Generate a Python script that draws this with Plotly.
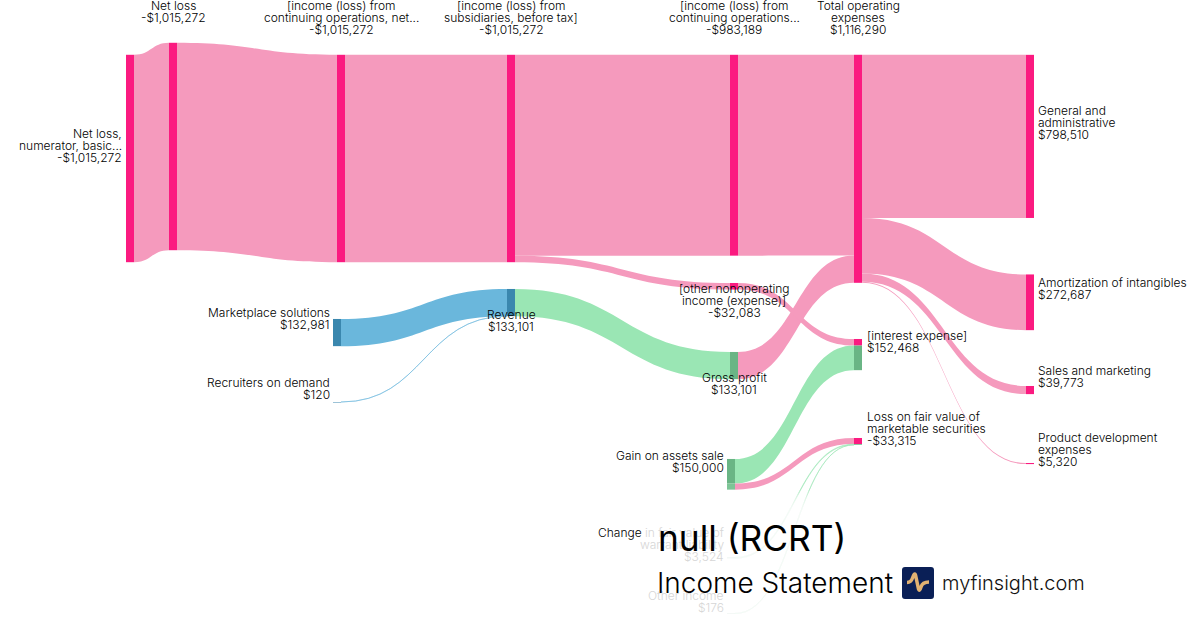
import plotly.graph_objects as go

W, H = 1200, 630
FONT = "Inter"

# ---- data -------------------------------------------------------------
node_names = [
    "Net loss, numerator, basic", "Net loss", "Income from continuing operations, net",
    "Income from subsidiaries, before tax", "Income from continuing operations",
    "Other nonoperating income", "Total operating expenses",
    "General and administrative", "Amortization of intangibles", "Sales and marketing",
    "Product development expenses", "Marketplace solutions", "Recruiters on demand",
    "Revenue", "Gross profit", "Interest expense (nonoperating part)", "Interest expense (gain part)",
    "Gain on assets sale (interest part)", "Gain on assets sale (fair value part)",
    "Loss on fair value (gain part)", "Loss on fair value (other part)",
    "Change in fair value of warrant liability", "Other income",
]
link_source = [0, 1, 2, 3, 3, 4, 14, 6, 6, 6, 6, 11, 12, 13, 5, 17, 18, 21, 22]
link_target = [1, 2, 3, 4, 5, 6, 6, 7, 8, 9, 10, 13, 13, 14, 15, 16, 19, 20, 20]
link_value = [1015272, 1015272, 1015272, 983189, 32083, 983189, 133101,
              798510, 272687, 39773, 5320, 132981, 120, 133101,
              32083, 120385, 29615, 3524, 176]
link_kind = ["p", "p", "p", "p", "p", "p", "p", "p", "p", "p", "p",
             "b", "b_thin", "g", "p", "g", "p", "g_thin", "g_thin"]
node_kind = ["p", "p", "p", "p", "p", "p", "p", "p", "p", "p", "p",
             "b", "b", "b", "g", "p", "g", "g", "g2", "p", "g", "g", "g"]

# node centre column (px) and top edge (px)
node_cx = [130, 173, 341, 511, 734, 734, 858, 1030, 1030, 1030, 1030, 337, 337,
           511, 734, 858, 858, 731, 731, 858, 858, 731, 731]
node_top = [55, 43, 55, 55, 55, 283, 55, 55, 274.5, 386, 463, 319, 402,
            289, 352, 339, 345.6, 459, 483.6, 438, 444.1, 557.5, 613.5]

# (lines, anchor, x, first-line y)
text_labels = [
    (["Net loss,", "numerator, basic...", "-$1,015,272"], "right", 122, 134),
    (["Net loss", "-$1,015,272"], "center", 173, 6),
    (["[income (loss) from", "continuing operations, net...", "-$1,015,272"], "center", 341, 6),
    (["[income (loss) from", "subsidiaries, before tax]", "-$1,015,272"], "center", 511, 6),
    (["[income (loss) from", "continuing operations...", "-$983,189"], "center", 734, 6),
    (["Total operating", "expenses", "$1,116,290"], "center", 858, 6),
    (["General and", "administrative", "$798,510"], "left", 1038, 111),
    (["Amortization of intangibles", "$272,687"], "left", 1038, 283),
    (["Sales and marketing", "$39,773"], "left", 1038, 371),
    (["Product development", "expenses", "$5,320"], "left", 1038, 438),
    (["[interest expense]", "$152,468"], "left", 867, 336),
    (["Loss on fair value of", "marketable securities", "-$33,315"], "left", 867, 417),
    (["[other nonoperating", "income (expense)]", "-$32,083"], "center", 734, 289),
    (["Gross profit", "$133,101"], "center", 734, 378),
    (["Revenue", "$133,101"], "center", 511, 315),
    (["Marketplace solutions", "$132,981"], "right", 330, 313),
    (["Recruiters on demand", "$120"], "right", 330, 383),
    (["Gain on assets sale", "$150,000"], "right", 724, 456),
]
faded_labels = [
    (["<span style='color:#000'>Change </span>in fair value of", "warrant liability", "$3,524"], "right", 724, 533),
    (["Other income", "$176"], "right", 724, 596),
]

# ---- styles ------------------------------------------------------------
LINK = {"p": "#F59ABD", "b": "#6AB7DC", "g": "#9AE6B4",
        "b_thin": "rgba(106,183,220,0.55)", "g_thin": "rgba(154,230,180,0.55)"}
NODE = {"p": "#FB1A80", "b": "#3A87AE", "g": "#6AB585", "g2": "#7DC596"}

thick = 8
scale = 1 / 4905
heights = {}
for i in range(len(node_names)):
    a = sum(v for s, v in zip(link_source, link_value) if s == i)
    b = sum(v for t, v in zip(link_target, link_value) if t == i)
    heights[i] = max(a, b) * scale

fig = go.Figure(go.Sankey(
    arrangement="fixed",
    domain=dict(x=[0, 1], y=[0, 1]),
    hoverinfo="skip",
    node=dict(
        label=[""] * len(node_names),
        customdata=node_names,
        x=[c / W for c in node_cx],
        y=[(t + heights[i] / 2) / H for i, t in enumerate(node_top)],
        color=[NODE[k] for k in node_kind],
        thickness=thick, pad=52, line=dict(width=0),
        hoverinfo="skip",
    ),
    link=dict(
        source=link_source, target=link_target, value=link_value,
        color=[LINK[k] for k in link_kind],
        line=dict(width=0),
        hoverinfo="skip",
    ),
))

ann = []
def add_text(text, x, y, size=12, anchor="center", color="#000", weight=300):
    ann.append(dict(text=text, x=x / W, y=1 - y / H, xref="paper", yref="paper",
                    xanchor=anchor, yanchor="middle", showarrow=False,
                    borderpad=0, borderwidth=0,
                    font=dict(family=FONT, size=size, color=color, weight=weight)))

for lines, anchor, x, y0 in text_labels:
    for i, t in enumerate(lines):
        add_text(t, x, y0 - 0.6 + 12 * i, anchor=anchor)
for lines, anchor, x, y0 in faded_labels:
    for i, t in enumerate(lines):
        add_text(t, x, y0 - 0.6 + 12 * i, anchor=anchor, color="#d6d6d6")

add_text("null (RCRT)", 658, 538, size=35.3, anchor="left", weight=400)
add_text("Income Statement", 657, 583, size=28, anchor="left")
add_text("myfinsight.com", 942, 583, size=20, anchor="left", color="#111")

shapes = []
# white fade over the lower links
for k in range(10):
    shapes.append(dict(type="rect", xref="paper", yref="paper", layer="above",
                       x0=637 / W, x1=1115 / W,
                       y0=0, y1=1 - (491 + 2 * k) / H,
                       fillcolor="rgba(255,255,255,0.18)", line=dict(width=0)))
# logo
px = lambda v: v / W
py = lambda v: 1 - v / H
def P(x, y):
    return f"{px(x):.5f},{py(y):.5f}"
r = 3
x0, x1, y0, y1 = 902, 934, 567, 599
logo = (f"M{P(x0+r,y0)} L{P(x1-r,y0)} Q{P(x1,y0)} {P(x1,y0+r)} L{P(x1,y1-r)} Q{P(x1,y1)} {P(x1-r,y1)} "
        f"L{P(x0+r,y1)} Q{P(x0,y1)} {P(x0,y1-r)} L{P(x0,y0+r)} Q{P(x0,y0)} {P(x0+r,y0)} Z")
shapes.append(dict(type="path", xref="paper", yref="paper", layer="above", path=logo,
                   fillcolor="#0A1F56", line=dict(width=0)))
wave = (f"M{P(907,582.5)} Q{P(911,582.5)} {P(912.5,578)} Q{P(914.5,572)} {P(915.5,575)} "
        f"L{P(918.5,589)} Q{P(919.5,592)} {P(921,587)} Q{P(922.5,582)} {P(929,582)}")
shapes.append(dict(type="path", xref="paper", yref="paper", layer="above", path=wave,
                   fillcolor="rgba(0,0,0,0)", line=dict(color="#E2B272", width=3.5)))

fig.update_layout(width=W, height=H, margin=dict(l=0, r=0, t=0, b=0),
                  paper_bgcolor="white", plot_bgcolor="white",
                  annotations=ann, shapes=shapes, showlegend=False,
                  font=dict(family=FONT, size=12, color="#000"))
fig.write_html("out.html", config=dict(displayModeBar=False),
               post_script="document.body.style.margin='0';document.body.style.overflow='hidden';")
